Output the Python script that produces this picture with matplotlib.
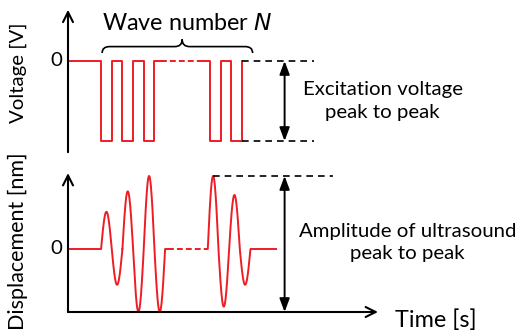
import numpy as np
import matplotlib
matplotlib.use("Agg")
import matplotlib.pyplot as plt
from matplotlib.path import Path
from matplotlib.patches import PathPatch, ArrowStyle

plt.rcParams['font.family'] = ['Lato', 'DejaVu Sans']

# --- data (time in units of a half period) ---
pulse_edges_1 = [3.1, 4.1, 5.1, 6.1, 7.1, 8.1]      # low/high switching times, first group
pulse_edges_2 = [13.3, 14.3, 15.3, 16.3]            # last group
volt_levels = [0, -1]                               # high / low

burst_start_1 = 3.1
burst_amps_1 = [0.51, 0.49, 0.79, 0.86, 1.0, 0.86]  # half-cycle amplitudes
burst_start_2 = 13.1
burst_amps_2 = [1.0, 0.79, 0.74, 0.49]
t_end = 19.5

red = '#ee1c25'
U = 10.67  # px per time unit

fig = plt.figure(figsize=(5.2, 3.36), dpi=100)
ax1 = fig.add_axes([0, 176 / 336, 1, 160 / 336])
ax2 = fig.add_axes([0, 0, 1, 176 / 336])
for ax in (ax1, ax2):
    ax.set_xlim(-68 / U, (520 - 68) / U)
    ax.axis('off')
ax1.set_ylim(-99 / 80, 61 / 80)
ax2.set_ylim(-87 / 73, 89 / 73)

fs = 14.7
fs_big = 16.8


def square(edges, start_level):
    xs, ys = [], []
    lev = start_level
    for e in edges:
        xs += [e, e]
        ys += [volt_levels[lev], volt_levels[1 - lev]]
        lev = 1 - lev
    return xs, ys


# ---- top panel: excitation voltage ----
x1, y1 = square(pulse_edges_1, 0)
ax1.plot([0] + x1 + [8.7], [0] + y1 + [0], color=red, lw=1.4)
ax1.plot([8.7, 12.4], [0, 0], color=red, lw=1.4, ls=(0, (3, 1.6)))
x2, y2 = square(pulse_edges_2, 0)
ax1.plot([12.4] + x2, [0] + y2, color=red, lw=1.4)

ax1.annotate('', xy=(0, 0.64), xytext=(0, -1.14),
             arrowprops=dict(arrowstyle='->', lw=1.5, color='black',
                             shrinkA=0, shrinkB=0, mutation_scale=18))
ax1.text(-1.05, 0, '0', ha='center', va='center', fontsize=fs)

ax1.plot([16.3, 23.1], [0, 0], color='black', lw=1.2, ls=(0, (4, 3)))
ax1.plot([16.3, 23.1], [-1, -1], color='black', lw=1.2, ls=(0, (4, 3)))
ax1.annotate('', xy=(20.3, 0), xytext=(20.3, -1),
             arrowprops=dict(arrowstyle=ArrowStyle('<|-|>', head_length=0.8, head_width=0.3),
                             lw=1.4, color='black', shrinkA=0, shrinkB=0, mutation_scale=10))
ax1.text(29.5, -0.5, 'Excitation voltage\npeak to peak', ha='center', va='center',
         fontsize=fs, linespacing=1.4)

# brace for wave number
bx0, bx1, bm = 3.2, 17.3, 10.7
rx = 0.7
yl, ym, yt = 0.1, 0.18, 0.27
verts = [(bx0, yl), (bx0, ym), (bx0 + rx, ym), (bm - rx, ym), (bm, ym), (bm, yt),
         (bm, ym), (bm + rx, ym), (bx1 - rx, ym), (bx1, ym), (bx1, yl)]
codes = [Path.MOVETO, Path.CURVE3, Path.CURVE3, Path.LINETO, Path.CURVE3, Path.CURVE3,
         Path.CURVE3, Path.CURVE3, Path.LINETO, Path.CURVE3, Path.CURVE3]
ax1.add_patch(PathPatch(Path(verts, codes), fill=False, lw=1.2, color='black'))
ax1.text(3.2, 0.47, 'Wave number $\\it{N}$', ha='left', va='center', fontsize=fs_big)

fig.text(18 / 520, 1 - 73 / 336, 'Voltage [V]', rotation=90, ha='center', va='center',
         fontsize=fs)


# ---- bottom panel: displacement ----
def burst(start, amps):
    ts, ys = [], []
    for k, a in enumerate(amps):
        t = np.linspace(start + k, start + k + 1, 40)
        ts.append(t)
        ys.append(a * np.sin(np.pi * (t - start)))
    return np.concatenate(ts), np.concatenate(ys)


tb1, yb1 = burst(burst_start_1, burst_amps_1)
tb2, yb2 = burst(burst_start_2, burst_amps_2)
end1 = burst_start_1 + len(burst_amps_1)
end2 = burst_start_2 + len(burst_amps_2)
ax2.plot(np.r_[0, tb1, end1 + 0.3], np.r_[0, yb1, 0], color=red, lw=1.4, clip_on=False)
ax2.plot([end1 + 0.3, burst_start_2 - 0.2], [0, 0], color=red, lw=1.4, ls=(0, (3, 1.6)))
ax2.plot(np.r_[burst_start_2 - 0.2, tb2, t_end], np.r_[0, yb2, 0], color=red, lw=1.4)

xax = -0.863
ax2.annotate('', xy=(0, 1.04), xytext=(0, xax),
             arrowprops=dict(arrowstyle='->', lw=1.5, color='black',
                             shrinkA=0, shrinkB=0, mutation_scale=18))
ax2.annotate('', xy=(29.05, xax), xytext=(0, xax),
             arrowprops=dict(arrowstyle='->', lw=1.5, color='black',
                             shrinkA=0, shrinkB=0, mutation_scale=18))
ax2.text(30.6, -0.97, 'Time [s]', ha='left', va='center', fontsize=fs_big)
ax2.text(-1.05, 0, '0', ha='center', va='center', fontsize=fs)

ax2.plot([13.6, 24.8], [1, 1], color='black', lw=1.2, ls=(0, (4, 3)))
ax2.annotate('', xy=(20.3, 1), xytext=(20.3, xax),
             arrowprops=dict(arrowstyle=ArrowStyle('<|-|>', head_length=0.8, head_width=0.3),
                             lw=1.4, color='black', shrinkA=0, shrinkB=0, mutation_scale=10))
ax2.text(31.8, 0.09, 'Amplitude of ultrasound\npeak to peak', ha='center', va='center',
         fontsize=fs, linespacing=1.4)

fig.text(18 / 520, 1 - 241 / 336, 'Displacement [nm]', rotation=90, ha='center', va='center',
         fontsize=15.5)

fig.savefig('out.png', dpi=100)
